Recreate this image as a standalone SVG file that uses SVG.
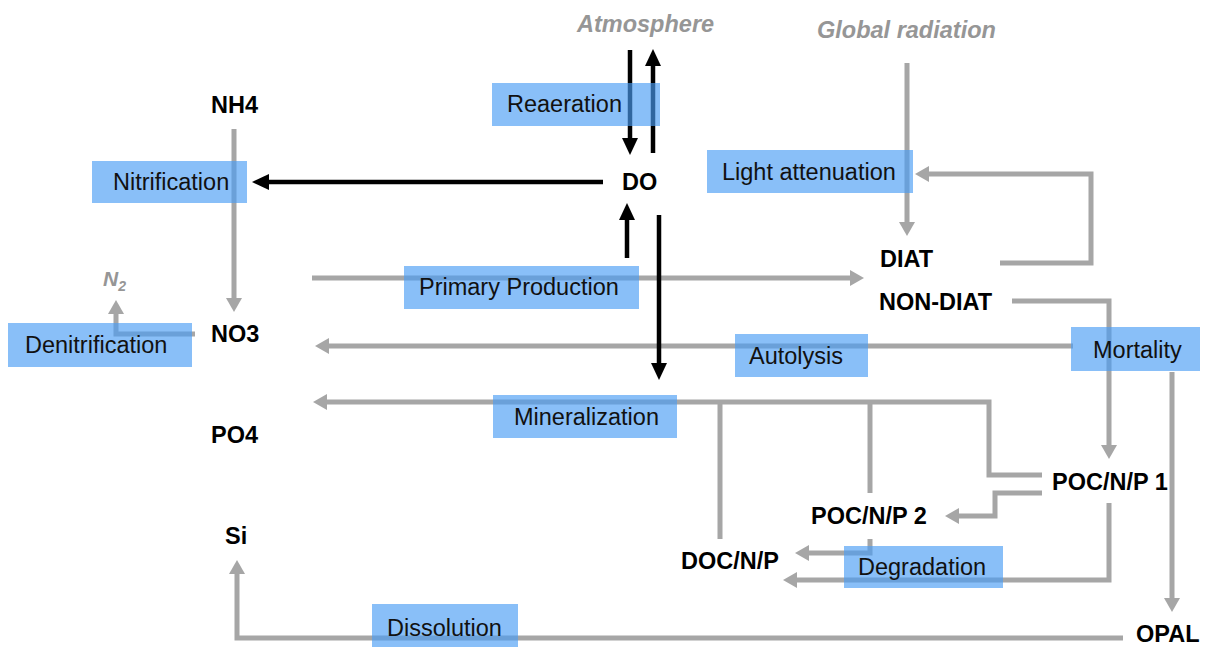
<svg xmlns="http://www.w3.org/2000/svg" width="1205" height="647" viewBox="0 0 1205 647">
<style>
.g{fill:none;stroke:#a6a6a6;stroke-width:5;stroke-linejoin:miter}
.k{fill:none;stroke:#000;stroke-width:4.5}
.box{fill:#4a9cf5;fill-opacity:0.65}
.pt{font-family:"Liberation Sans",Arial,sans-serif;font-size:23.5px;fill:#111}
.nl{font-family:"Liberation Sans",Arial,sans-serif;font-size:23.5px;font-weight:bold;fill:#000}
.ext{font-family:"Liberation Sans",Arial,sans-serif;font-size:23.5px;font-weight:bold;font-style:italic;fill:#969696}
</style>
<defs>
<marker id="ag" markerUnits="userSpaceOnUse" markerWidth="14" markerHeight="16" viewBox="0 0 14 16" refX="0" refY="8" orient="auto"><path d="M0,0 L14,8 L0,16 z" fill="#a6a6a6"/></marker>
<marker id="ak" markerUnits="userSpaceOnUse" markerWidth="17" markerHeight="16" viewBox="0 0 17 16" refX="0" refY="8" orient="auto"><path d="M0,0 L17,8 L0,16 z" fill="#000"/></marker>
</defs>
<g id="connectors">
<path class="g" d="M907,63 V222" marker-end="url(#ag)"/>
<path class="g" d="M234,129 V298" marker-end="url(#ag)"/>
<path class="g" d="M195,334 H116 V314" marker-end="url(#ag)"/>
<path class="g" d="M312,278 H850" marker-end="url(#ag)"/>
<path class="g" d="M1000,263 H1091 V174 H929" marker-end="url(#ag)"/>
<path class="g" d="M1012,301 H1109 V445" marker-end="url(#ag)"/>
<path class="g" d="M1073,346 H329" marker-end="url(#ag)"/>
<path class="g" d="M1172,372 V598" marker-end="url(#ag)"/>
<path class="g" d="M1042,475 H989 V402 H327" marker-end="url(#ag)"/>
<path class="g" d="M720,539 V402"/>
<path class="g" d="M870,493 V402"/>
<path class="g" d="M1042,493 H995 V516 H959" marker-end="url(#ag)"/>
<path class="g" d="M870,539 V553 H809" marker-end="url(#ag)"/>
<path class="g" d="M1109,503 V580 H797" marker-end="url(#ag)"/>
<path class="g" d="M1123,638 H237 V574" marker-end="url(#ag)"/>
<path class="k" d="M603,182 H269" marker-end="url(#ak)"/>
<path class="k" d="M630,50 V138" marker-end="url(#ak)"/>
<path class="k" d="M653,153 V66" marker-end="url(#ak)"/>
<path class="k" d="M627,258 V220" marker-end="url(#ak)"/>
<path class="k" d="M659,215 V363" marker-end="url(#ak)"/>
</g>
<g id="atmosphere"><text class="ext" x="577" y="32">Atmosphere</text></g>
<g id="global-radiation"><text class="ext" x="817" y="38">Global radiation</text></g>
<g id="n2"><text class="ext" x="103" y="286" style="font-size:21px">N<tspan dy="5" style="font-size:14px">2</tspan></text></g>
<g id="nh4"><text class="nl" x="211" y="113">NH4</text></g>
<g id="no3"><text class="nl" x="211" y="342">NO3</text></g>
<g id="po4"><text class="nl" x="211" y="443">PO4</text></g>
<g id="si"><text class="nl" x="225" y="544">Si</text></g>
<g id="do"><text class="nl" x="622" y="190">DO</text></g>
<g id="diat"><text class="nl" x="880" y="267">DIAT</text></g>
<g id="non-diat"><text class="nl" x="879" y="310">NON-DIAT</text></g>
<g id="pocnp1"><text class="nl" x="1052" y="490">POC/N/P 1</text></g>
<g id="pocnp2"><text class="nl" x="811" y="524">POC/N/P 2</text></g>
<g id="docnp"><text class="nl" x="681" y="569">DOC/N/P</text></g>
<g id="opal"><text class="nl" x="1136" y="642">OPAL</text></g>
<g id="reaeration"><rect class="box" x="492" y="83" width="168" height="43"/><text class="pt" x="507" y="112">Reaeration</text></g>
<g id="nitrification"><rect class="box" x="92" y="161" width="155" height="42"/><text class="pt" x="113" y="190">Nitrification</text></g>
<g id="denitrification"><rect class="box" x="8" y="323" width="184" height="44"/><text class="pt" x="25" y="353">Denitrification</text></g>
<g id="light-attenuation"><rect class="box" x="707" y="150" width="206" height="43"/><text class="pt" x="722" y="180">Light attenuation</text></g>
<g id="primary-production"><rect class="box" x="404" y="266" width="235" height="43"/><text class="pt" x="419" y="295">Primary Production</text></g>
<g id="autolysis"><rect class="box" x="735" y="334" width="133" height="43"/><text class="pt" x="749" y="364">Autolysis</text></g>
<g id="mortality"><rect class="box" x="1071" y="327" width="129" height="44"/><text class="pt" x="1093" y="358">Mortality</text></g>
<g id="mineralization"><rect class="box" x="493" y="395" width="184" height="43"/><text class="pt" x="514" y="425">Mineralization</text></g>
<g id="degradation"><rect class="box" x="844" y="546" width="159" height="42"/><text class="pt" x="858" y="575">Degradation</text></g>
<g id="dissolution"><rect class="box" x="372" y="604" width="146" height="43"/><text class="pt" x="387" y="636">Dissolution</text></g>
</svg>
